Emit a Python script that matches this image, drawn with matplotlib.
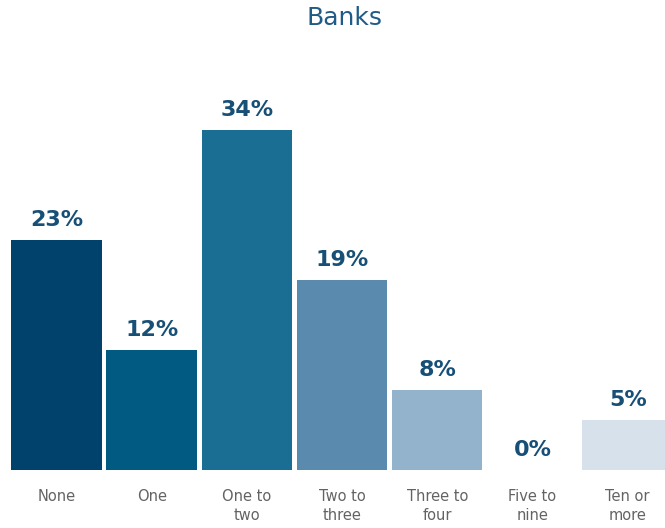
import matplotlib.pyplot as plt
import numpy as np

# Données
categories = ["None", "One", "One to\ntwo", "Two to\nthree", "Three to\nfour", "Five to\nnine", "Ten or\nmore"]
values = [23, 12, 34, 19, 8, 0, 5]
colors = ["#00426b", "#005a82", "#1a6d93", "#5a8bae", "#93b3cc", "#bfd0e0", "#d7e1eb"]

fig = plt.figure(figsize=(6.65, 5.28), dpi=100)
ax = fig.add_axes([0, 58 / 528, 1, 400 / 528])

x = np.arange(len(values))
bars = ax.bar(x, values, width=0.95, color=colors)

# Étiquettes de valeur au-dessus des barres
for xi, v in zip(x, values):
    ax.annotate(f"{v}%", (xi, v), xytext=(0, 7), textcoords="offset points",
                ha="center", va="bottom", fontsize=16, fontweight="bold",
                color="#174f76")

ax.set_xlim(-0.593, 6.392)
ax.set_ylim(0, 40)
ax.set_xticks(x)
ax.set_xticklabels(categories, fontsize=10.5, color="#636363", linespacing=1.3)
ax.tick_params(axis="x", length=0, pad=14)
ax.set_yticks([])
for s in ax.spines.values():
    s.set_visible(False)

fig.text(0.518, 0.965, "Banks", ha="center", va="center", fontsize=18, color="#1f5b86")

fig.savefig("out.png", dpi=100)
